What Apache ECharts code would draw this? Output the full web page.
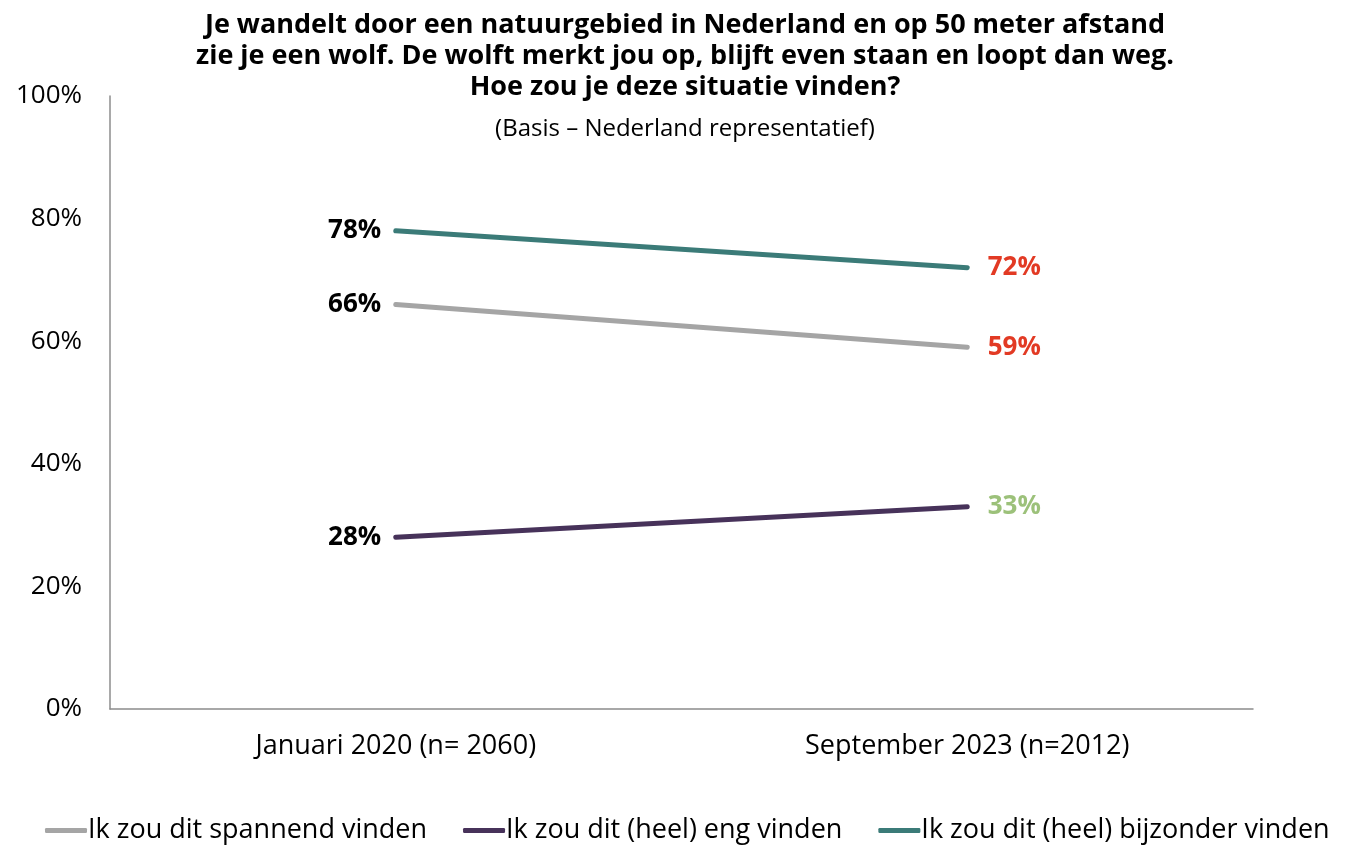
<!DOCTYPE html>
<html>
<head>
<meta charset="utf-8">
<script src="https://cdn.jsdelivr.net/npm/echarts@6/dist/echarts.min.js"></script>
<style>
  html, body { margin: 0; padding: 0; background: #fff; }
  #chart { width: 1355px; height: 846px; }
</style>
</head>
<body>
<div id="chart"></div>
<script>
// data
const categories = ['Januari 2020 (n= 2060)', 'September 2023 (n=2012)'];
const seriesNames = ['Ik zou dit spannend vinden', 'Ik zou dit (heel) eng vinden', 'Ik zou dit (heel) bijzonder vinden'];
const spannend = [66, 59];
const eng = [28, 33];
const bijzonder = [78, 72];
const yTicks = [0, 20, 40, 60, 80, 100];

const colors = ['#a5a5a5', '#47325a', '#3b7b78'];
const rightLabelColors = ['#e23a24', '#9cc17a', '#e23a24'];
const font = '"Open Sans", sans-serif';

const chart = echarts.init(document.getElementById('chart'));

function makeData(values, rightColor) {
    return values.map((v, i) => ({
        value: v,
        label: i === 0
            ? { position: 'left', color: '#000', distance: 14 }
            : { position: 'right', color: rightColor, distance: 20 }
    }));
}

const allValues = [spannend, eng, bijzonder];

const option = {
    animation: false,
    title: {
        text: 'Je wandelt door een natuurgebied in Nederland en op 50 meter afstand\nzie je een wolf. De wolft merkt jou op, blijft even staan en loopt dan weg.\nHoe zou je deze situatie vinden?',
        subtext: '(Basis – Nederland representatief)',
        left: 680,
        textAlign: 'center',
        top: 5,
        itemGap: 14,
        textStyle: { fontFamily: font, fontSize: 27, fontWeight: 'bold', color: '#000', lineHeight: 31 },
        subtextStyle: { fontFamily: font, fontSize: 24, color: '#000' }
    },
    grid: { left: 110, right: 102, top: 96, bottom: 137 },
    legend: {
        bottom: -3,
        left: 40,
        itemWidth: 42,
        itemHeight: 5,
        itemGap: 36,
        icon: 'roundRect',
        data: seriesNames.map((n, i) => ({ name: n, itemStyle: { color: colors[i] } })),
        textStyle: { fontFamily: font, fontSize: 27, color: '#000', padding: [0, 0, 0, -4] }
    },
    xAxis: {
        type: 'category',
        data: categories,
        axisLine: { lineStyle: { color: '#8c8c8c', width: 1.5 } },
        axisTick: { show: false },
        axisLabel: { fontFamily: font, fontSize: 27, color: '#000', margin: 24 }
    },
    yAxis: {
        type: 'value',
        min: yTicks[0],
        max: yTicks[yTicks.length - 1],
        interval: 20,
        splitLine: { show: false },
        axisLine: { show: true, lineStyle: { color: '#8c8c8c', width: 1.5 } },
        axisLabel: { fontFamily: font, fontSize: 26, color: '#000', margin: 28, formatter: '{value}%' }
    },
    series: seriesNames.map((name, i) => ({
        name: name,
        type: 'line',
        data: makeData(allValues[i], rightLabelColors[i]),
        symbol: 'circle',
        symbolSize: 1,
        showSymbol: true,
        lineStyle: { color: colors[i], width: 5, cap: 'round' },
        itemStyle: { color: colors[i] },
        label: {
            show: true,
            formatter: '{c}%',
            fontFamily: font,
            fontSize: 26,
            fontWeight: 'bold'
        }
    }))
};

chart.setOption(option);
</script>
</body>
</html>
